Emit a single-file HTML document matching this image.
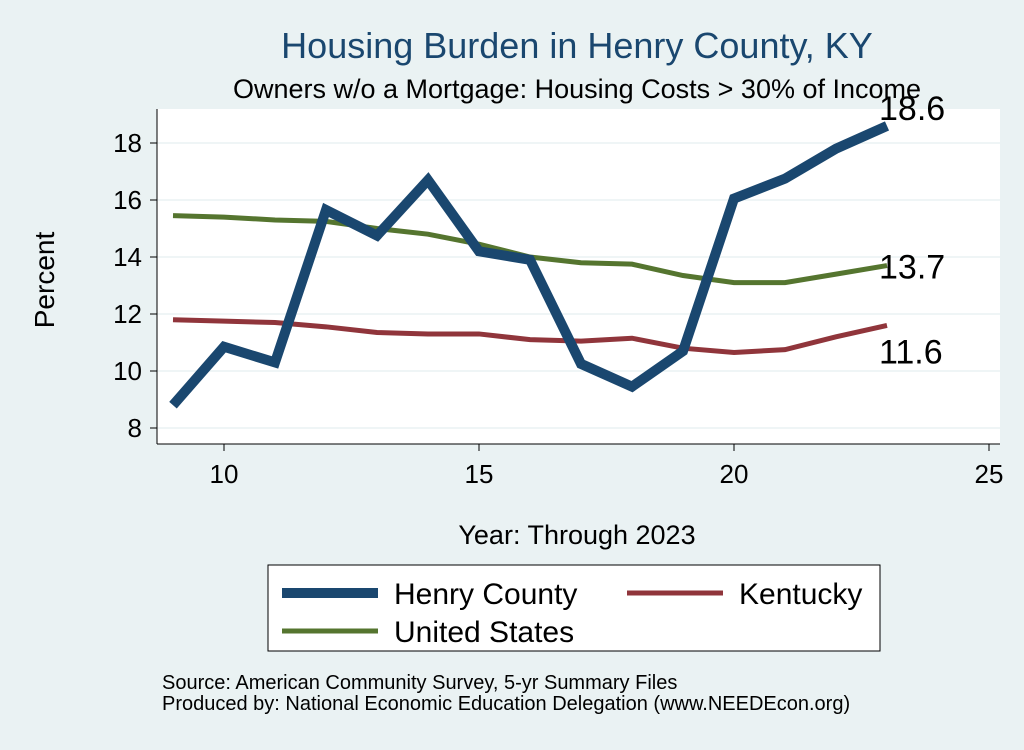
<!DOCTYPE html>
<html><head><meta charset="utf-8"><style>
body{margin:0;background:#eaf2f3;width:1024px;height:745px;overflow:hidden;font-family:"Liberation Sans",sans-serif}
svg text{font-family:"Liberation Sans",sans-serif}
</style></head><body>
<svg width="1024" height="745">
<rect x="0" y="0" width="1024" height="745" fill="#eaf2f3"/>
<text x="577" y="58" font-size="36" fill="#1a476f" text-anchor="middle">Housing Burden in Henry County, KY</text>
<text x="577" y="98" font-size="27" fill="#000" text-anchor="middle">Owners w/o a Mortgage: Housing Costs &gt; 30% of Income</text>
<rect x="157" y="109" width="843" height="335" fill="#fff"/>
<g id="grid"></g>
<g id="axes"></g>
<g id="series"></g>
<text x="577" y="544" font-size="27" text-anchor="middle">Year: Through 2023</text>
<text transform="translate(54,280) rotate(-90)" font-size="28" text-anchor="middle">Percent</text>
<g>
<rect x="268" y="565" width="612" height="86" fill="#fff" stroke="#000" stroke-width="1"/>
<line x1="282" y1="593" x2="378" y2="593" stroke="#1a476f" stroke-width="10"/>
<text x="394" y="604" font-size="30">Henry County</text>
<line x1="627" y1="593" x2="723" y2="593" stroke="#90353b" stroke-width="5"/>
<text x="739" y="604" font-size="30">Kentucky</text>
<line x1="282" y1="631" x2="378" y2="631" stroke="#55752f" stroke-width="5"/>
<text x="394" y="642" font-size="30">United States</text>
</g>
<text x="162" y="689" font-size="20">Source: American Community Survey, 5-yr Summary Files</text>
<text x="162" y="710" font-size="20">Produced by: National Economic Education Delegation (www.NEEDEcon.org)</text>
</svg>
<script>
const years=[9,10,11,12,13,14,15,16,17,18,19,20,21,22,23];
const henry=[8.8,10.85,10.3,15.65,14.75,16.7,14.2,13.9,10.25,9.45,10.7,16.05,16.75,17.8,18.6];
const kentucky=[11.8,11.75,11.7,11.55,11.35,11.3,11.3,11.1,11.05,11.15,10.8,10.65,10.75,11.2,11.6];
const usa=[15.45,15.4,15.3,15.25,15.0,14.8,14.45,14.0,13.8,13.75,13.35,13.1,13.1,13.4,13.7];
const xTicks=[10,15,20,25];
const yTicks=[8,10,12,14,16,18];
const NS="http://www.w3.org/2000/svg";
function X(v){return 224+(v-10)*51.0;}
function Y(v){return 428-(v-8)*28.5;}
function mk(t,a,p){const e=document.createElementNS(NS,t);for(const k in a)e.setAttribute(k,a[k]);p.appendChild(e);return e;}
const grid=document.getElementById('grid'),axes=document.getElementById('axes'),ser=document.getElementById('series');
yTicks.forEach(v=>{
 const g=mk('line',{x1:157,x2:1000,y1:Y(v),y2:Y(v),stroke:'#eaf2f3','stroke-width':1.5},grid);
 
 
 const t=mk('line',{x1:150,x2:157,y1:Y(v),y2:Y(v),stroke:'#000'},axes);
 
 
 const l=mk('text',{x:142,y:Y(v)+9,'font-size':26,'text-anchor':'end'},axes);l.textContent=v;
 
 
});
xTicks.forEach(v=>{
 const t=mk('line',{x1:X(v),x2:X(v),y1:444,y2:451,stroke:'#000'},axes);
 
 
 const l=mk('text',{x:X(v),y:483,'font-size':26,'text-anchor':'middle'},axes);l.textContent=v;
 
 
});
const ya=mk('line',{x1:157,x2:157,y1:109,y2:444,stroke:'#000'},axes);


const xa=mk('line',{x1:157,x2:1000,y1:444,y2:444,stroke:'#000'},axes);


function line(vals,col,w,name){
 const p=mk('polyline',{points:vals.map((v,i)=>X(years[i])+','+Y(v)).join(' '),fill:'none',stroke:col,'stroke-width':w,'stroke-linejoin':'miter'},ser);
 
 
}
line(kentucky,'#90353b',5,'kentucky-line');
line(usa,'#55752f',5,'united-states-line');
line(henry,'#1a476f',10,'henry-county-line');
const n=years.length-1;
function lab(v,dy,name){
 const t=mk('text',{x:X(years[n])-8,y:Y(v)+dy,'font-size':34},ser);t.textContent=v.toFixed(1);
 
 
}
lab(henry[n],-6,'henry-end-label');
lab(usa[n],13,'us-end-label');
lab(kentucky[n],38,'kentucky-end-label');
</script>
</body></html>
